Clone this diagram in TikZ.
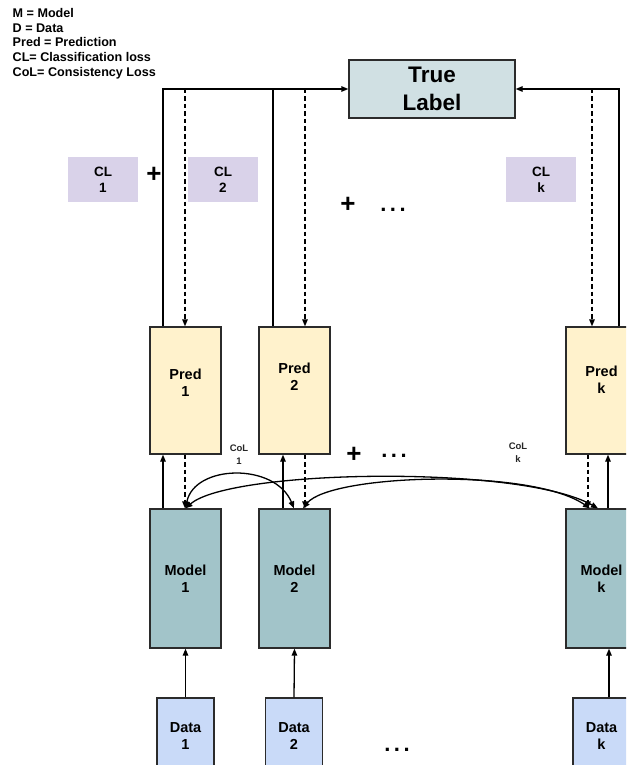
\documentclass[tikz,border=0pt]{standalone}
\usepackage{fontspec}
\setmainfont{Liberation Sans}
\usetikzlibrary{arrows.meta,calc}
\definecolor{tlfill}{HTML}{D0E0E3}
\definecolor{clfill}{HTML}{D9D2E9}
\definecolor{predfill}{HTML}{FFF2CC}
\definecolor{modelfill}{HTML}{A2C4C9}
\definecolor{datafill}{HTML}{C9DAF8}
\definecolor{edge}{HTML}{2B2B2B}
\tikzset{
  tip/.tip={Triangle[length=7pt,width=5.5pt]},
  boxbase/.style={draw=edge, line width=1.3pt, inner sep=0pt, align=center, text=black,
    font=\bfseries\fontsize{14.5}{17.5}\selectfont},
  predbox/.style={boxbase, fill=predfill, minimum width=71pt, minimum height=127pt},
  modelbox/.style={boxbase, fill=modelfill, minimum width=71pt, minimum height=139pt},
  databox/.style={boxbase, fill=datafill, minimum width=57pt, minimum height=76pt},
  clbox/.style={fill=clfill, inner sep=0pt, minimum width=70pt, minimum height=45pt, align=center,
    font=\bfseries\fontsize{13.5}{16}\selectfont},
  ln/.style={draw=black, line width=1.3pt},
  dln/.style={ln, dash pattern=on 4.5pt off 3pt},
  coltext/.style={font=\bfseries\fontsize{9.5}{13}\selectfont, align=center, text=black!85},
  plus/.style={font=\bfseries\fontsize{26}{26}\selectfont, inner sep=0pt},
  dots/.style={font=\bfseries\fontsize{22}{22}\selectfont, inner sep=0pt},
}
\newcommand{\dotsrow}{.\kern3.5pt.\kern3.5pt.}
\begin{document}
\begin{tikzpicture}[x=1pt,y=-1pt]
\useasboundingbox (0,0) rectangle (626,765);
\clip (0,0) rectangle (626,765);

% legend
\node[anchor=north west, inner sep=0pt, align=left,
      font=\bfseries\fontsize{12.6}{14.7}\selectfont] (legend) at (12.5,8)
  {M = Model\\D = Data\\Pred = Prediction\\CL= Classification loss\\CoL= Consistency Loss};

% true label
\node[boxbase, fill=tlfill, minimum width=166pt, minimum height=58pt,
      font=\bfseries\fontsize{22.5}{28}\selectfont] (tl) at (432,89) {True\\Label};

% CL boxes
\node[clbox] (cl1) at (103,179.5) {CL\\1};
\node[clbox] (cl2) at (223,179.5) {CL\\2};
\node[clbox] (clk) at (541,179.5) {CL\\k};

% preds
\node[predbox] (p1) at (185.5,390.5) {Pred\\1\rule[-16pt]{0pt}{0pt}};
\node[predbox] (p2) at (294.5,390.5) {Pred\\2\rule[-28pt]{0pt}{0pt}};
\node[predbox] (pk) at (601.5,390.5) {Pred\\k\rule[-22pt]{0pt}{0pt}};

% models
\node[modelbox] (m1) at (185.5,578.5) {Model\\1};
\node[modelbox] (m2) at (294.5,578.5) {Model\\2};
\node[modelbox] (mk) at (601.5,578.5) {Model\\k};

% data
\node[databox] (d1) at (185.5,736) {Data\\1};
\node[databox] (d2) at (294,736) {Data\\2};
\node[databox] (dk) at (601.5,736) {Data\\k};

% plus / dots
\node[plus] (plusA) at (154,175) {+};
\node[plus] (plusB) at (348,205) {+};
\node[dots] (dotsB) at (393,210) {\dotsrow};
\node[plus] (plusC) at (354,455) {+};
\node[dots] (dotsC) at (394,456) {\dotsrow};
\node[dots] (dotsD) at (397,750) {\dotsrow};

% CoL labels
\node[coltext] (col1) at (239,455) {CoL\\1};
\node[coltext] (colk) at (518,453) {CoL\\k};

% pred -> true label (solid)
\draw[ln,-tip] ([xshift=-22.5pt]p1.north) |- (tl.west);
\draw[ln] ([xshift=-21.5pt]p2.north) -- ([xshift=-21.5pt]p2.north |- tl.west);
\draw[ln,-tip] ([xshift=17.5pt]pk.north) |- (tl.east);

% true label -> pred (dashed)
\draw[dln,-tip] ([xshift=-0.5pt]p1.north |- tl.west) -- ([xshift=-0.5pt]p1.north);
\draw[dln,-tip] ([xshift=10.5pt]p2.north |- tl.west) -- ([xshift=10.5pt]p2.north);
\draw[dln,-tip] ([xshift=-9.5pt]pk.north |- tl.east) -- ([xshift=-9.5pt]pk.north);

% model -> pred (solid), pred -> model (dashed)
\draw[ln,-tip] ([xshift=-22.5pt]m1.north) -- ([xshift=-22.5pt]p1.south);
\draw[dln,-tip] ([xshift=-0.5pt]p1.south) -- ([xshift=-0.5pt]m1.north);
\draw[ln,-tip] ([xshift=-11.5pt]m2.north) -- ([xshift=-11.5pt]p2.south);
\draw[dln,-tip] ([xshift=10.5pt]p2.south) -- ([xshift=10.5pt]m2.north);
\draw[dln,-tip] ([xshift=-13.5pt]pk.south) -- ([xshift=-13.5pt]mk.north);
\draw[ln,-tip] ([xshift=6.5pt]mk.north) -- ([xshift=6.5pt]pk.south);

% data -> model
\draw[ln,-tip] (d1.north) -- (m1.south);
\draw[ln,-tip] (d2.north) -- (m2.south);
\draw[ln,-tip] ([xshift=7.5pt]dk.north) -- ([xshift=7.5pt]mk.south);

% consistency loss curves
\draw[ln,tip-tip] (m1.north) .. controls +(9,-44) and +(-19,-46) .. ([xshift=-0.5pt]m2.north);
\draw[ln,tip-tip] (m1.north) .. controls +(44.5,-39) and +(-78,-44) .. ([xshift=-3.5pt]mk.north);
\draw[ln,tip-tip] ([xshift=8.5pt]m2.north) .. controls +(27,-34) and +(-60,-41) .. ([xshift=-11.5pt]mk.north);
\end{tikzpicture}
\end{document}
